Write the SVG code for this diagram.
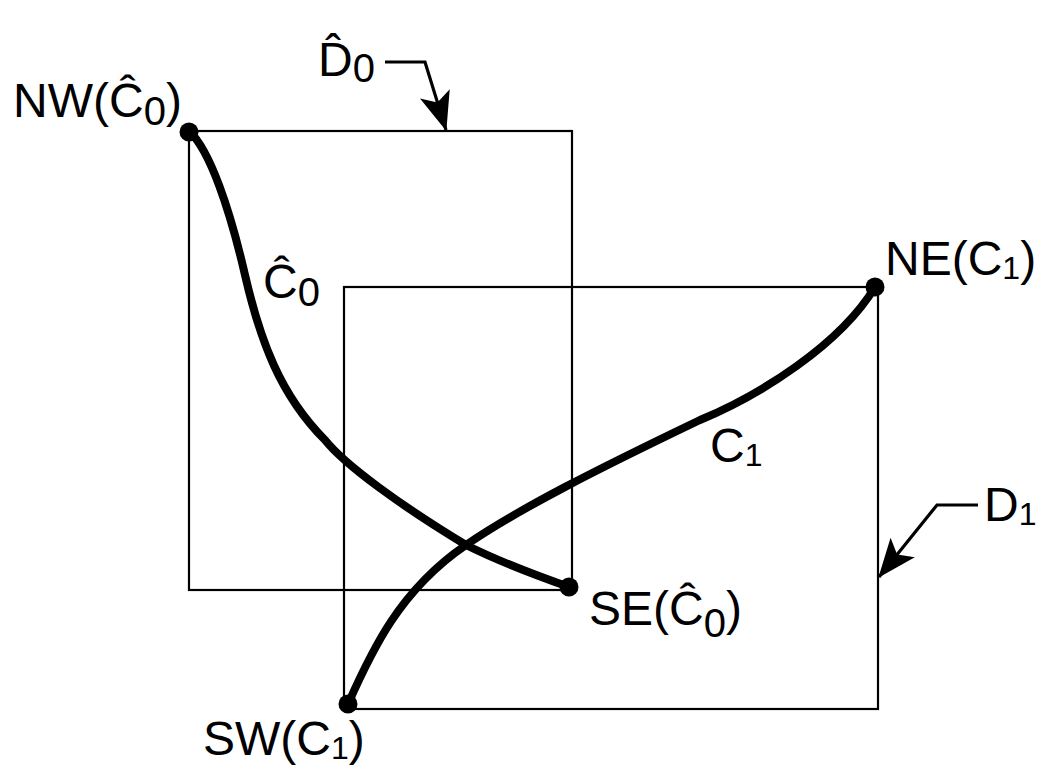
<svg xmlns="http://www.w3.org/2000/svg" width="1044" height="772" viewBox="0 0 1044 772">
<style>
.box{fill:none;stroke:#000;stroke-width:2.2}
.curve{fill:none;stroke:#000;stroke-width:8;stroke-linecap:round}
.lead{fill:none;stroke:#000;stroke-width:3.2}
.dot{fill:#000}
text{font-family:"Liberation Sans",Arial,sans-serif;font-size:48px;fill:#000}
.sub0{font-size:40px}
.sub1{font-size:32px}
</style>
<defs>
<marker id="ah" markerUnits="userSpaceOnUse" markerWidth="40" markerHeight="40" viewBox="0 0 36 32" refX="34" refY="16" orient="auto">
<path d="M0,2 L35,16 L0,30 L8,16 Z" fill="#000"/>
</marker>
</defs>
<rect width="1044" height="772" fill="#fff"/>
<g id="D0"><rect class="box" x="189" y="131" width="383" height="459"/></g>
<g id="D1"><rect class="box" x="344" y="287" width="534" height="422"/></g>
<g id="connectors">
<path class="curve" d="M189,131 C210,150 230,210 245,275 C260,340 280,395 325,440 C345,465 400,505 466,545 C500,562 535,575 569,587"/>
<path class="curve" d="M348,704 C372,650 400,590 466,545 C520,508 600,468 700,420 C760,395 840,345 875,287"/>
<path class="lead" d="M385,62 H425 L446,130" marker-end="url(#ah)"/>
<path class="lead" d="M978,505 H937 L879,577" marker-end="url(#ah)"/>
</g>
<g id="NW"><circle class="dot" cx="189" cy="132" r="9.5"/><text x="13" y="117">NW(Ĉ<tspan class="sub0" dy="8">0</tspan><tspan dy="-8">)</tspan></text></g>
<g id="SE"><circle class="dot" cx="569" cy="587" r="9.5"/><text x="589" y="625">SE(Ĉ<tspan class="sub0" dy="12">0</tspan><tspan dy="-12">)</tspan></text></g>
<g id="NE"><circle class="dot" cx="875" cy="287" r="9.5"/><text x="885" y="275">NE(C<tspan class="sub1" dy="4">1</tspan><tspan dy="-4">)</tspan></text></g>
<g id="SW"><circle class="dot" cx="348" cy="704" r="9.5"/><text x="203" y="755">SW(C<tspan class="sub1" dy="4">1</tspan><tspan dy="-4">)</tspan></text></g>
<g id="C0label"><text x="263" y="298">Ĉ<tspan class="sub0" dy="8">0</tspan></text></g>
<g id="C1label"><text x="710" y="462">C<tspan class="sub1" dy="4">1</tspan></text></g>
<g id="D0label"><text x="318" y="76">D̂<tspan class="sub0" dy="6">0</tspan></text></g>
<g id="D1label"><text x="984" y="521">D<tspan class="sub1" dy="4">1</tspan></text></g>
</svg>
